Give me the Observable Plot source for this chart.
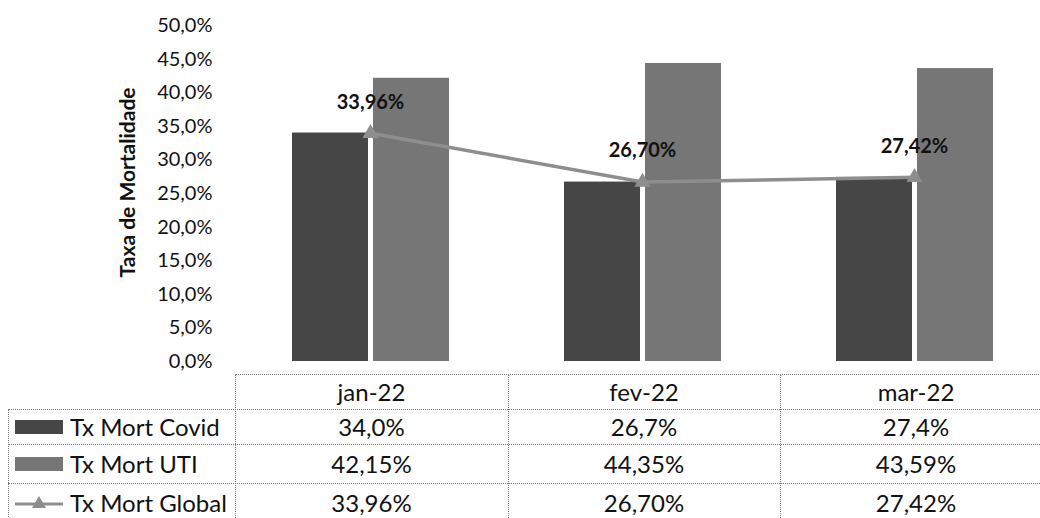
<!DOCTYPE html>
<html><head><meta charset="utf-8">
<script src="https://cdn.jsdelivr.net/npm/d3@7"></script>
<script src="https://cdn.jsdelivr.net/npm/@observablehq/plot@0.6"></script>
<style>
body{margin:0;background:#fff;font-family:Lato,sans-serif;}
#wrap{position:relative;width:1040px;height:518px;overflow:hidden;background:#fff;}
#chart svg{display:block;}
.hl{position:absolute;border-top:1px dotted #777;height:0;}
.vl{position:absolute;border-left:1px dotted #777;width:0;}
.cell{position:absolute;display:flex;align-items:center;font-size:24px;color:#111;white-space:nowrap;}
.c{justify-content:center;}
</style></head><body>
<div id="wrap"><div id="chart"></div></div>
<script>
const months = ["jan-22", "fev-22", "mar-22"];
const covid = [34.0, 26.7, 27.4];
const uti = [42.15, 44.35, 43.59];
const globalRate = [33.96, 26.70, 27.42];
const seriesNames = ["Tx Mort Covid", "Tx Mort UTI", "Tx Mort Global"];
const yTicks = [0, 5, 10, 15, 20, 25, 30, 35, 40, 45, 50];
const yTitle = "Taxa de Mortalidade";

const fmt = (v, d) => v.toFixed(d).replace(".", ",") + "%";
const rows = months.map((m, i) => ({month: m, covid: covid[i], uti: uti[i], global: globalRate[i]}));

const cCovid = "#464646", cUti = "#767676", cLine = "#8e8e8e";

const chart = Plot.plot({
  width: 1040, height: 372,
  marginLeft: 235, marginRight: 0, marginTop: 25, marginBottom: 11,
  style: {fontFamily: "Lato, sans-serif", fontSize: "20px", background: "#fff", color: "#111"},
  x: {domain: months, range: [235, 1052], padding: 0, axis: null},
  y: {domain: [0, 50], range: [361, 25], ticks: yTicks, tickSize: 0, tickPadding: 23, tickFormat: d => fmt(d, 1), label: null},
  marks: [
    Plot.barY(rows, {x: "month", y: "covid", fill: cCovid, insetLeft: 56, insetRight: 140}),
    Plot.barY(rows, {x: "month", y: "uti", fill: cUti, insetLeft: 137, insetRight: 59}),
    Plot.line(rows, {x: "month", y: "global", stroke: cLine, strokeWidth: 3.5, dx: -2}),
    Plot.dot(rows, {x: "month", y: "global", symbol: "triangle", r: 6, fill: cLine, stroke: null, dx: -2}),
    Plot.text(rows, {x: "month", y: "global", text: d => fmt(d.global, 2), dx: -2, dy: -31, fontWeight: "bold", fontSize: 20, fill: "#111"}),
    Plot.text([yTitle], {frameAnchor: "left", textAnchor: "middle", text: d => d, rotate: -90, dx: -107, dy: -11, fontWeight: "bold", fontSize: 21, fill: "#111"})
  ]
});
document.getElementById("chart").appendChild(chart);

// data table (legend) below the chart
const wrap = document.getElementById("wrap");
function add(cls, style, html) {
  const e = document.createElement("div");
  e.className = cls;
  Object.assign(e.style, style);
  if (html !== undefined) e.innerHTML = html;
  wrap.appendChild(e);
  return e;
}
const colX = [235, 508, 780, 1052];
const rowY = [374, 409, 444, 483, 522];
add("hl", {left: "235px", top: rowY[0] + "px", width: "820px"});
for (let r = 1; r < 4; r++) add("hl", {left: "8px", top: rowY[r] + "px", width: "1040px"});
add("vl", {left: "8px", top: rowY[1] + "px", height: "120px"});
for (let c = 0; c < 3; c++) add("vl", {left: colX[c] + "px", top: rowY[0] + "px", height: "150px"});
months.forEach((m, i) => add("cell c", {left: colX[i] + "px", width: (colX[i+1] - colX[i]) + "px", top: rowY[0] + "px", height: (rowY[1] - rowY[0]) + "px"}, m));
const tableVals = [covid.map(v => fmt(v, 1)), uti.map(v => fmt(v, 2)), globalRate.map(v => fmt(v, 2))];
const swatches = [
  `<svg width="48" height="14" style="margin-right:7px"><rect width="48" height="14" fill="${cCovid}"/></svg>`,
  `<svg width="48" height="14" style="margin-right:7px"><rect width="48" height="14" fill="${cUti}"/></svg>`,
  `<svg width="48" height="16" style="margin-right:7px"><line x1="0" x2="48" y1="9" y2="9" stroke="${cLine}" stroke-width="3"/><path d="M24,1 L31,13 L17,13 Z" fill="${cLine}"/></svg>`
];
seriesNames.forEach((s, r) => {
  const top = rowY[r+1], h = rowY[r+2] - rowY[r+1];
  add("cell", {left: "15px", width: "220px", top: top + "px", height: h + "px"}, swatches[r] + s);
  tableVals[r].forEach((v, i) => add("cell c", {left: colX[i] + "px", width: (colX[i+1] - colX[i]) + "px", top: top + "px", height: h + "px"}, v));
});
</script>
</body></html>
